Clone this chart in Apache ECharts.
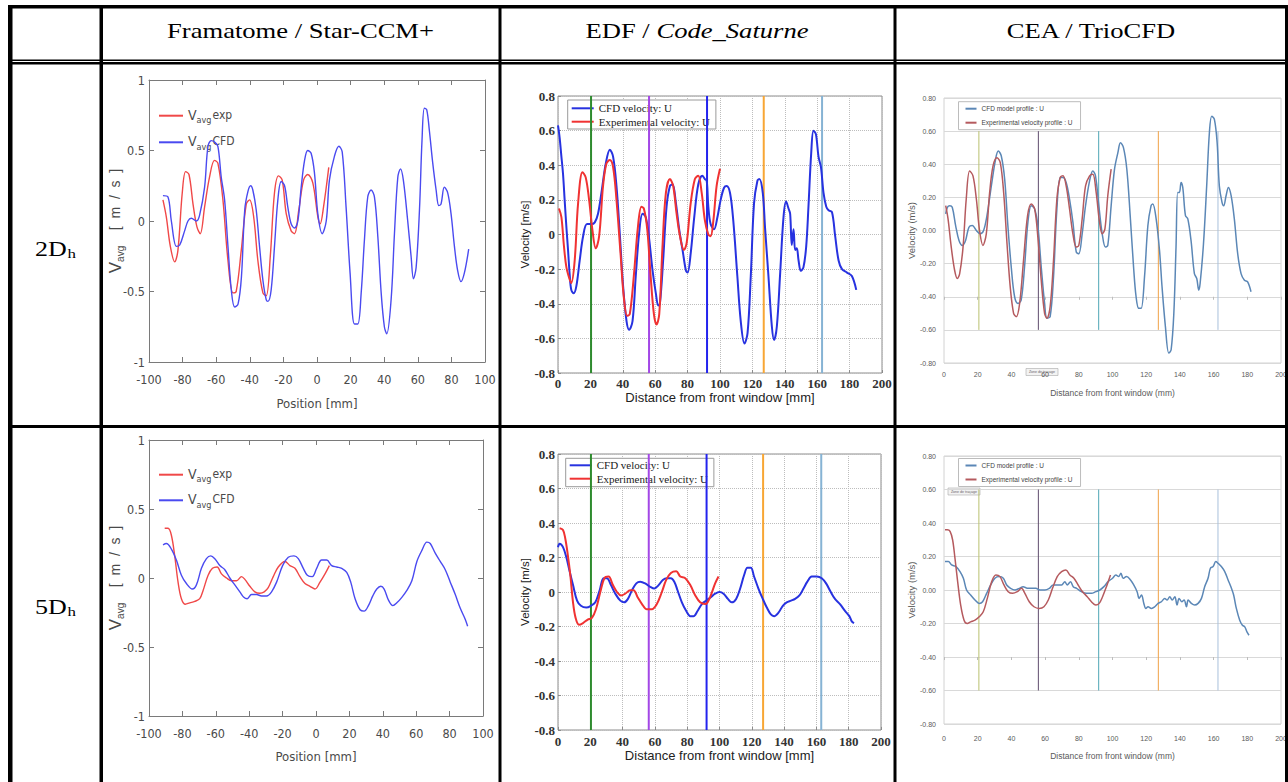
<!DOCTYPE html>
<html>
<head>
<meta charset="utf-8">
<script src="https://cdn.jsdelivr.net/npm/echarts@6/dist/echarts.min.js"></script>
<style>
  html, body { margin: 0; padding: 0; background: #fff; }
  #chart { width: 1288px; height: 782px; }
</style>
</head>
<body>
<div id="chart"></div>
<script>
// ---------- table text ----------
const rowLabels = ['2D', '5D'];
const rowLabelSub = 'h';

// ---------- Framatome / Star-CCM+ : position [mm] vs V_avg [m/s] ----------
const fra2Cfd = [[-91.7,0.18],[-88.7,0.17],[-86.7,0.0],[-83.7,-0.18],[-81.7,-0.17],[-78.8,-0.07],[-76.8,0.0],[-74.8,0.02],[-71.8,0.0],[-69.9,0.04],[-66.9,0.24],[-64.9,0.53],[-62.9,0.57],[-61,0.56],[-59,0.53],[-57,0.31],[-55,0.15],[-53,-0.18],[-51,-0.49],[-49,-0.61],[-47,-0.59],[-45,-0.40],[-43,0.08],[-41.1,0.21],[-39.5,0.25],[-38.2,0.22],[-36.2,0.08],[-34.2,-0.18],[-32.2,-0.42],[-30.2,-0.56],[-29.2,-0.57],[-27.3,-0.49],[-25.3,-0.18],[-23.3,0.15],[-21.3,0.28],[-19.3,0.25],[-17.4,0.10],[-15.4,-0.02],[-13.4,-0.05],[-11.4,0.0],[-9.4,0.24],[-7.4,0.43],[-5.5,0.50],[-3.5,0.48],[-1.5,0.34],[0.5,0.05],[3.1,-0.09],[5.5,0.0],[7.4,0.29],[10.4,0.46],[13,0.53],[15,0.49],[17.3,0.10],[19.7,-0.37],[22.3,-0.73],[24.3,-0.73],[26.3,-0.51],[28.2,-0.14],[30.2,0.17],[32.2,0.22],[34.2,0.17],[36.2,-0.11],[38.2,-0.51],[40.1,-0.75],[41.5,-0.80],[44.1,-0.56],[46.1,-0.09],[48.1,0.31],[49.7,0.37],[51.4,0.29],[54,0.0],[56,-0.25],[57.4,-0.41],[59,-0.33],[61,0.08],[62.5,0.57],[63.9,0.80],[65.3,0.79],[66.9,0.64],[68.9,0.41],[70.9,0.22],[72.5,0.11],[73.8,0.12],[75.8,0.24],[77.8,0.20],[79.8,0.05],[81.8,-0.18],[83.7,-0.35],[85.7,-0.43],[87.7,-0.37],[90.3,-0.20]];
const fra2Exp = [[-91.7,0.15],[-89.7,0.03],[-87.3,-0.18],[-84.7,-0.29],[-82.8,-0.21],[-80.2,0.20],[-78.2,0.35],[-76.2,0.33],[-73.8,0.12],[-71.5,-0.04],[-69.5,-0.09],[-66.9,0.10],[-64,0.31],[-61,0.43],[-59,0.41],[-56,0.15],[-53,-0.28],[-50,-0.51],[-48.1,-0.50],[-45.1,-0.21],[-42.1,0.12],[-40.1,0.15],[-37.7,0.03],[-35.2,-0.28],[-32.2,-0.51],[-30.2,-0.53],[-27.8,-0.25],[-25.3,0.20],[-22.9,0.32],[-20.7,0.29],[-18.3,0.05],[-15.4,-0.07],[-13.4,-0.09],[-10.8,0.08],[-8,0.29],[-5.5,0.33],[-2.5,0.27],[0.5,0.03],[1.9,-0.02],[3.9,0.10],[7,0.38]];
const fra5Cfd = [[-91.6,0.24],[-89.6,0.25],[-86.6,0.21],[-83.6,0.13],[-80.6,0.02],[-77.6,-0.04],[-74,-0.08],[-71.6,-0.05],[-68.6,0.07],[-65.6,0.14],[-63,0.16],[-60.6,0.14],[-57.6,0.09],[-54.6,0.06],[-51.6,0.0],[-48.6,-0.05],[-45.6,-0.10],[-43.2,-0.14],[-41.2,-0.15],[-38.6,-0.12],[-35.6,-0.12],[-32.6,-0.13],[-29.6,-0.13],[-26.6,-0.10],[-23.6,-0.03],[-20,0.09],[-16.6,0.15],[-13.2,0.16],[-10.6,0.14],[-7.6,0.07],[-5.2,0.02],[-2.2,0.01],[0.4,0.07],[3.4,0.13],[6.4,0.13],[9.4,0.09],[12.4,0.08],[15.4,0.07],[18.4,0.04],[20.8,-0.03],[23.4,-0.15],[26.4,-0.23],[28.8,-0.24],[31.4,-0.20],[34,-0.13],[36.4,-0.08],[38.8,-0.06],[40.8,-0.08],[43.4,-0.16],[46,-0.20],[48.4,-0.18],[51.4,-0.14],[54.4,-0.09],[57.4,-0.02],[60.4,0.12],[63.4,0.20],[66.4,0.26],[68.4,0.25],[71.4,0.18],[74.4,0.12],[77.4,0.06],[80.4,-0.03],[83.4,-0.12],[86.4,-0.22],[89.4,-0.30],[90.8,-0.35]];
const fra5Exp = [[-90.6,0.36],[-88.6,0.36],[-86.6,0.31],[-84.6,0.16],[-82.6,-0.03],[-80.6,-0.15],[-78.2,-0.19],[-75.6,-0.18],[-72.6,-0.17],[-69.6,-0.15],[-67.6,-0.09],[-64.6,0.02],[-62,0.07],[-59.2,0.08],[-56.6,0.03],[-53.6,0.0],[-50.6,-0.02],[-47.6,-0.02],[-44.6,0.01],[-42.6,-0.01],[-39.6,-0.06],[-36.6,-0.10],[-33.6,-0.11],[-31,-0.10],[-28.6,-0.07],[-25.6,0.01],[-22.6,0.08],[-18.6,0.12],[-15.6,0.09],[-12.6,0.07],[-9.6,0.01],[-6.6,-0.04],[-3.6,-0.06],[-0.6,-0.08],[2.4,-0.03],[5.4,0.03],[8,0.09]];

// ---------- EDF / Code_Saturne : distance from front window [mm] vs velocity ----------
const edf2Cfd = [[0,0.63],[1,0.56],[2.1,0.45],[3.1,0.35],[4.1,0.20],[5.2,0.04],[6.2,-0.09],[7.2,-0.23],[8.2,-0.32],[9.7,-0.34],[11.3,-0.30],[13.4,-0.15],[15.5,-0.01],[17.9,0.06],[20.6,0.06],[22.7,0.07],[24.7,0.12],[26.8,0.24],[29.5,0.41],[32,0.49],[34,0.45],[36.1,0.28],[38.1,0.01],[40.2,-0.30],[42.3,-0.50],[43.9,-0.55],[46,-0.50],[48,-0.24],[50.1,0.01],[52.2,0.12],[54.2,0.10],[56.3,-0.03],[58.4,-0.21],[60.4,-0.34],[61.9,-0.41],[62.9,-0.40],[64.9,-0.15],[67,0.16],[69.1,0.28],[70.7,0.29],[72.8,0.18],[74.8,0.03],[76.9,-0.09],[79,-0.21],[80,-0.22],[81.9,-0.11],[84.1,0.10],[86.6,0.29],[89.1,0.34],[90.7,0.32],[91.8,0.31],[92.8,0.16],[94.2,0.06],[96.3,0.03],[98.4,0.10],[100.4,0.20],[102.5,0.27],[104.1,0.28],[106.2,0.24],[108.2,0.08],[110.7,-0.24],[112.8,-0.50],[115.1,-0.63],[117,-0.57],[119,-0.24],[121,0.18],[123.1,0.31],[124.3,0.32],[126.4,0.24],[127.8,0.04],[129.9,-0.24],[132,-0.53],[133.4,-0.61],[135.1,-0.53],[137.1,-0.23],[139.2,0.10],[140.8,0.19],[142.3,0.15],[143.3,0.12],[144.3,-0.06],[145.4,0.03],[146.4,-0.09],[147.4,-0.08],[148.5,-0.15],[149.9,-0.21],[151.5,-0.19],[153.2,-0.07],[154.6,0.16],[156.3,0.47],[157.7,0.60],[159.2,0.58],[160.8,0.45],[162.3,0.39],[163.9,0.24],[165.6,0.16],[167,0.14],[169.1,0.13],[171.1,-0.01],[173.2,-0.15],[175.3,-0.20],[178.4,-0.22],[181.4,-0.24],[184.1,-0.32]];
const edf2Exp = [[0.6,0.15],[2.1,0.10],[3.7,-0.07],[5.2,-0.19],[7.2,-0.26],[8.2,-0.28],[10.3,-0.15],[12.4,0.18],[15.1,0.36],[17.1,0.33],[19.2,0.20],[21.2,0.03],[23.3,-0.08],[25.4,-0.01],[27.8,0.28],[29.9,0.41],[32,0.43],[34,0.39],[36.1,0.20],[38.6,-0.11],[40.6,-0.36],[42.7,-0.47],[44.3,-0.46],[46.8,-0.24],[49.3,0.04],[51.5,0.16],[53,0.15],[55.1,0.03],[57.1,-0.23],[59.2,-0.46],[60.8,-0.52],[62.5,-0.46],[64.5,-0.07],[66.6,0.24],[69.1,0.32],[71.1,0.28],[73.2,0.12],[75.3,-0.01],[77.7,-0.09],[79.4,-0.05],[81.9,0.18],[84.5,0.32],[86.6,0.34],[88.7,0.24],[90.7,0.08],[92.8,0.0],[94.2,-0.01],[95.9,0.08],[97.9,0.28],[100,0.38]];
const edf5Cfd = [[0,0.26],[1,0.28],[3.1,0.26],[5.2,0.20],[7.2,0.12],[9.3,0.04],[11.8,-0.05],[14.2,-0.08],[17.5,-0.09],[20.4,-0.08],[23.1,-0.06],[25.8,0.01],[28.2,0.08],[30.3,0.08],[32.8,0.04],[35.5,-0.01],[38.6,-0.05],[41,-0.06],[43.3,-0.04],[45.8,0.01],[48.5,0.05],[50.9,0.06],[54,0.05],[57.1,0.03],[59.6,0.02],[62.3,0.04],[64.9,0.07],[67.4,0.08],[69.9,0.08],[72,0.06],[74,0.01],[76.7,-0.06],[79.4,-0.11],[81.9,-0.14],[83.9,-0.14],[86.4,-0.11],[89.1,-0.07],[91.8,-0.05],[94.6,-0.03],[97.3,-0.01],[100,0.0],[102.5,-0.01],[105.2,-0.04],[107.6,-0.06],[110.3,-0.04],[112.8,0.02],[115.3,0.10],[117.3,0.14],[119.4,0.14],[121.4,0.09],[124.1,0.02],[126.8,-0.04],[129.3,-0.09],[131.8,-0.13],[133.8,-0.14],[136.5,-0.12],[139.2,-0.08],[141.6,-0.06],[144.3,-0.05],[146.8,-0.04],[149.5,-0.02],[152,0.02],[154.4,0.06],[157.1,0.09],[160.2,0.09],[163.3,0.08],[166,0.05],[168.9,0.0],[171.5,-0.04],[174.6,-0.07],[177.7,-0.11],[180.4,-0.14],[181.9,-0.17],[183.3,-0.18]];
const edf5Exp = [[1,0.37],[3.1,0.36],[4.5,0.31],[6,0.22],[7.6,0.10],[9.3,-0.06],[10.9,-0.15],[13,-0.19],[15.5,-0.18],[18.4,-0.16],[21,-0.15],[23.5,-0.10],[26.2,0.0],[28.7,0.08],[31.3,0.09],[34,0.04],[36.5,0.0],[39,-0.02],[41.6,-0.01],[44.7,0.01],[46.8,0.01],[49.3,-0.03],[52,-0.07],[55,-0.10],[58.1,-0.10],[61.2,-0.07],[64.3,0.0],[67,0.07],[69.9,0.11],[73.2,0.12],[75.7,0.09],[78.8,0.08],[81.9,0.04],[85,-0.02],[88,-0.06],[91.1,-0.07],[92.6,-0.06],[94.6,-0.02],[97.3,0.05],[99.4,0.09]];
const edfProbeX = [20.4, 56.2, 92, 127, 163];

// ---------- CEA / TrioCFD : distance from front window (mm) vs velocity ----------
const cea2Cfd = [[1,0.10],[2,0.14],[3.4,0.15],[4.9,0.14],[6.9,0.03],[8.9,-0.06],[10.9,-0.09],[12.8,-0.06],[14.8,0.02],[16.8,0.03],[19.2,0.0],[21.5,-0.02],[23.5,0.0],[25.5,0.09],[28.1,0.27],[30.6,0.43],[32.2,0.48],[34,0.45],[36,0.31],[37.9,0.03],[39.9,-0.22],[41.9,-0.40],[43.9,-0.44],[45.8,-0.42],[47.8,-0.22],[49.8,0.05],[51.8,0.15],[53.8,0.13],[55.7,0.03],[57.7,-0.22],[59.7,-0.44],[61.1,-0.53],[63,-0.52],[65,-0.28],[67,0.13],[69,0.32],[70.6,0.32],[72.5,0.29],[74.5,0.19],[76.5,0.05],[78.5,-0.13],[80,-0.14],[82,-0.02],[84,0.15],[86.4,0.30],[88.3,0.36],[89.9,0.33],[91.9,0.15],[93.9,-0.02],[95.8,-0.10],[97.2,-0.09],[99.2,0.15],[101.2,0.37],[103.2,0.47],[104.7,0.53],[106.5,0.50],[108.5,0.37],[110.5,0.09],[112.5,-0.22],[114,-0.40],[115.6,-0.47],[117,-0.47],[119,-0.28],[121,0.03],[122.9,0.15],[123.9,0.16],[125.9,0.07],[127.9,-0.12],[129.4,-0.34],[131.4,-0.58],[133.4,-0.74],[134.8,-0.72],[136.4,-0.50],[137.7,-0.10],[138.7,0.23],[139.7,0.23],[140.7,0.29],[141.7,0.26],[143.3,0.09],[144.7,0.07],[146.6,-0.06],[148.6,-0.26],[150,-0.29],[151.2,-0.36],[152,-0.32],[154,-0.08],[155.9,0.27],[157.5,0.59],[158.9,0.69],[160.5,0.67],[162.1,0.53],[163.4,0.27],[165,0.17],[166,0.15],[167.4,0.21],[168.8,0.26],[170.4,0.21],[172.3,0.07],[174.3,-0.14],[176.3,-0.26],[178.3,-0.30],[180.2,-0.31],[182.2,-0.37]];
const cea2Exp = [[1,0.15],[2.4,0.07],[4.3,-0.10],[6.3,-0.24],[7.9,-0.29],[9.3,-0.26],[11.3,-0.10],[13.2,0.19],[15.2,0.36],[17.2,0.33],[19.2,0.19],[21.1,0.0],[23.1,-0.09],[25.1,-0.02],[27.1,0.23],[29.1,0.39],[31.4,0.44],[33.4,0.41],[35.4,0.23],[37.4,-0.08],[39.3,-0.34],[41.3,-0.50],[42.9,-0.52],[44.9,-0.44],[47.2,-0.18],[49.6,0.09],[51.8,0.16],[53.8,0.13],[55.7,-0.04],[57.7,-0.30],[59.7,-0.50],[61.1,-0.53],[63,-0.46],[65,-0.18],[67,0.19],[69,0.32],[70.6,0.33],[72.5,0.27],[74.5,0.13],[76.5,-0.02],[78.5,-0.10],[80,-0.09],[82,0.07],[84,0.27],[86.4,0.33],[88.3,0.34],[90.3,0.23],[92.3,0.05],[93.9,-0.02],[95.5,0.01],[97.2,0.21],[99.2,0.37]];
const cea5Cfd = [[0.6,0.17],[2.6,0.17],[4.5,0.15],[7.1,0.14],[9.5,0.11],[11.5,0.07],[13.4,0.0],[15.8,-0.03],[18.4,-0.06],[20.9,-0.08],[22.9,-0.07],[25.3,-0.02],[27.7,0.03],[30.2,0.07],[32.8,0.08],[35.2,0.07],[37.2,0.03],[39.5,0.01],[42.1,0.0],[44.7,0.01],[47,0.02],[49.4,0.01],[52,0.01],[54.5,0.01],[56.9,0.0],[59.9,0.0],[62.5,0.01],[64.8,0.03],[67.2,0.03],[69.8,0.03],[71.7,0.05],[73.1,0.03],[75.1,0.05],[76.7,0.02],[78.7,0.01],[81.6,-0.01],[84.6,-0.02],[87.5,-0.02],[90.1,-0.01],[92.5,0.0],[94.9,0.02],[97.4,0.05],[100,0.07],[102,0.09],[103.6,0.08],[105,0.10],[106.3,0.07],[108.3,0.08],[110.7,0.06],[112.6,0.03],[114.6,-0.01],[115.8,-0.05],[117.2,-0.03],[118.6,-0.08],[119.8,-0.11],[121.1,-0.10],[123.1,-0.11],[125.1,-0.10],[127.1,-0.08],[129,-0.07],[131,-0.05],[132.4,-0.06],[134,-0.04],[135.4,-0.06],[137,-0.04],[138.3,-0.09],[139.5,-0.05],[141.1,-0.07],[142.5,-0.06],[143.9,-0.10],[144.9,-0.06],[146.8,-0.08],[148.8,-0.09],[150.8,-0.08],[152.8,-0.05],[154.7,0.02],[156.7,0.07],[158.1,0.13],[159.7,0.14],[161.3,0.17],[162.6,0.16],[164.6,0.14],[166.6,0.11],[168.6,0.06],[170.6,0.01],[171.9,-0.03],[173.5,-0.11],[175.5,-0.18],[177.1,-0.21],[178.5,-0.22],[179.8,-0.25],[181,-0.27]];
const cea5Exp = [[0.6,0.36],[2,0.36],[3.6,0.35],[5.1,0.30],[6.5,0.19],[8.1,0.05],[9.9,-0.09],[11.9,-0.18],[13.8,-0.20],[15.8,-0.19],[18.4,-0.18],[20.9,-0.16],[23.3,-0.13],[25.7,-0.05],[28.3,0.05],[30.8,0.09],[33.2,0.08],[35.6,0.03],[38.1,-0.01],[40.7,-0.02],[43.5,-0.01],[46,0.01],[48,-0.02],[50.6,-0.07],[53.4,-0.10],[56.5,-0.11],[59.3,-0.10],[61.9,-0.06],[64.4,0.01],[67.2,0.08],[69.8,0.11],[72.3,0.12],[74.7,0.09],[77.1,0.07],[79.6,0.03],[82.2,-0.01],[85,-0.04],[87.5,-0.07],[90.1,-0.09],[92.1,-0.08],[94.1,-0.04],[96.4,0.02],[98.8,0.09]];
const ceaProbeX = [20.7, 56, 91.8, 127.2, 162.6];

// ---------- styling ----------
const NARROW = "'Liberation Sans Narrow','DejaVu Sans Condensed','Liberation Sans',sans-serif";
const SANS = "'Liberation Sans',Arial,sans-serif";
const SERIF = "'Liberation Serif','Times New Roman',serif";
const edfProbeColors = ['#2e8b2e', '#a347e6', '#2323ee', '#f8a634', '#86b3d4'];
const ceaProbeColors = ['#b9c06f', '#5f4d6e', '#4fa6b6', '#f0a246', '#a9c0dc'];
// legend keys show the line only
const legendLineOnly = { opacity: 0 };

const grids = [], xAxes = [], yAxes = [], series = [], legends = [];

function addGrid(left, top, width, height, extra) {
  grids.push(Object.assign({ left, top, width, height, containLabel: false, outerBoundsMode: 'none' }, extra || {}));
  return grids.length - 1;
}
function addX(cfg) { xAxes.push(cfg); return xAxes.length - 1; }
function addY(cfg) { yAxes.push(cfg); return yAxes.length - 1; }
function addLine(name, data, xi, yi, color, width, z, smooth) {
  series.push({
    type: 'line', name, data, xAxisIndex: xi, yAxisIndex: yi,
    symbol: 'none', showSymbol: false, smooth: smooth, z,
    lineStyle: { color, width }, itemStyle: { color }, silent: true
  });
}
function addProbes(xs, colors, lo, hi, xi, yi, width) {
  xs.forEach((x, i) => {
    series.push({
      type: 'line', data: [[x, lo], [x, hi]], xAxisIndex: xi, yAxisIndex: yi,
      symbol: 'none', showSymbol: false, z: 4, silent: true,
      lineStyle: { color: colors[i], width }
    });
  });
}

// Octave-style panel: boxed axes, inward ticks on all four sides, condensed font
function octavePanel(rect, cfd, exp, legendTop, legendPitch, xLabelMargin, xNameGap) {
  const g = addGrid(rect[0], rect[1], rect[2], rect[3]);
  const axisLine = { show: true, onZero: false, lineStyle: { color: '#7a7a7a', width: 1 } };
  const tick = { show: true, inside: true, length: 5, lineStyle: { color: '#7a7a7a' } };
  const lbl = { fontFamily: NARROW, fontSize: 12.5, color: '#4a4a4a' };
  const xb = addX({ gridIndex: g, type: 'value', min: -100, max: 100, interval: 20, position: 'bottom',
    axisLine, axisTick: tick, splitLine: { show: false },
    axisLabel: Object.assign({ margin: xLabelMargin }, lbl),
    name: 'Position [mm]', nameLocation: 'middle', nameGap: xNameGap,
    nameTextStyle: { fontFamily: NARROW, fontSize: 13, color: '#4a4a4a' } });
  addX({ gridIndex: g, type: 'value', min: -100, max: 100, interval: 20, position: 'top',
    axisLine, axisTick: tick, axisLabel: { show: false }, splitLine: { show: false } });
  const yl = addY({ gridIndex: g, type: 'value', min: -1, max: 1, interval: 0.5, position: 'left',
    axisLine, axisTick: tick, splitLine: { show: false },
    axisLabel: Object.assign({ margin: 4 }, lbl),
    name: '{v|V}{s|avg}{u|    [  m  /  s  ]}', nameLocation: 'middle', nameGap: 24, nameMoveOverlap: false,
    nameTextStyle: { color: '#4a4a4a', rich: {
      v: { fontFamily: SANS, fontSize: 17, color: '#4a4a4a' },
      s: { fontFamily: SANS, fontSize: 10, color: '#4a4a4a', padding: [10, 0, 0, 0] },
      u: { fontFamily: SANS, fontSize: 14, color: '#4a4a4a' } } } });
  addY({ gridIndex: g, type: 'value', min: -1, max: 1, interval: 0.5, position: 'right',
    axisLine, axisTick: tick, axisLabel: { show: false }, splitLine: { show: false } });
  const nExp = 'Vavg exp', nCfd = 'Vavg CFD';
  addLine(nExp, exp, xb, yl, '#f04848', 1.4, 5, 0.35);
  addLine(nCfd, cfd, xb, yl, '#4a4af0', 1.4, 6, 0.35);
  legends.push({
    left: 158, top: legendTop, orient: 'vertical', itemWidth: 24, itemHeight: 18,
    itemGap: legendPitch - 18, padding: 0, data: [nExp, nCfd], selectedMode: false,
    itemStyle: legendLineOnly,
    formatter: n => '{v|V}{s|avg}{t|' + n.split(' ')[1] + '}',
    textStyle: { rich: {
      v: { fontFamily: NARROW, fontSize: 14, color: '#4a4a4a', padding: [0, 0, 2, 0] },
      s: { fontFamily: NARROW, fontSize: 9, color: '#4a4a4a', padding: [9, 0, 0, 0] },
      t: { fontFamily: NARROW, fontSize: 12, color: '#4a4a4a', padding: [0, 0, 2, 1] } } }
  });
}

// MATLAB-style panel: dotted grid, bold serif tick labels, probe lines over full height
function matlabPanel(rect, cfd, exp, legendBox, xLabelMargin, xNameGap) {
  const g = addGrid(rect[0], rect[1], rect[2], rect[3], { show: true, borderColor: '#8c8c8c', borderWidth: 1, backgroundColor: 'transparent' });
  const lbl = { fontFamily: SERIF, fontWeight: 'bold', fontSize: 13, color: '#333' };
  const split = { show: true, lineStyle: { type: 'dotted', color: '#bdbdbd', width: 1 } };
  const xi = addX({ gridIndex: g, type: 'value', min: 0, max: 200, interval: 20,
    axisLine: { show: false, onZero: false }, axisTick: { show: true, inside: true, length: 3, lineStyle: { color: '#8c8c8c' } },
    splitLine: split, axisLabel: Object.assign({ margin: xLabelMargin }, lbl),
    name: 'Distance from front window [mm]', nameLocation: 'middle', nameGap: xNameGap,
    nameTextStyle: { fontFamily: SANS, fontSize: 13, color: '#222' } });
  const yi = addY({ gridIndex: g, type: 'value', min: -0.8, max: 0.8, interval: 0.2,
    axisLine: { show: false, onZero: false }, axisTick: { show: true, inside: true, length: 3, lineStyle: { color: '#8c8c8c' } },
    splitLine: split, axisLabel: Object.assign({ margin: 3 }, lbl),
    name: 'Velocity [m/s]', nameLocation: 'middle', nameGap: 26,
    nameTextStyle: { fontFamily: SANS, fontSize: 11.5, color: '#222' } });
  const nCfd = 'CFD velocity: U', nExp = 'Experimental velocity: U';
  addLine(nCfd, cfd, xi, yi, '#2732e0', 2, 5, 0.35);
  addLine(nExp, exp, xi, yi, '#f03232', 2, 6, 0.35);
  addProbes(edfProbeX, edfProbeColors, -0.8, 0.8, xi, yi, 2);
  legends.push({
    left: legendBox[0], top: legendBox[1], orient: 'vertical', itemWidth: 22, itemHeight: 11,
    itemGap: 2.4, padding: legendBox[2], data: [nCfd, nExp], selectedMode: false,
    itemStyle: legendLineOnly,
    backgroundColor: '#fff', borderColor: '#9a9a9a', borderWidth: 1, borderRadius: 0,
    textStyle: { fontFamily: SERIF, fontSize: 11, color: '#222' }
  });
}

// Spreadsheet-style panel: light horizontal grid, small grey labels, probe lines between ±0.6
function excelPanel(rect, cfd, exp, legendTop, xLabelMargin, xNameGap) {
  const g = addGrid(rect[0], rect[1], rect[2], rect[3], { show: true, borderColor: '#d2d2d2', borderWidth: 1, backgroundColor: 'transparent' });
  const lbl = { fontFamily: SANS, fontSize: 7, color: '#5a5a5a' };
  const xi = addX({ gridIndex: g, type: 'value', min: 0, max: 200, interval: 20,
    axisLine: { show: false, onZero: false }, axisTick: { show: false }, splitLine: { show: false },
    axisLabel: Object.assign({ margin: xLabelMargin }, lbl),
    name: 'Distance from front window (mm)', nameLocation: 'middle', nameGap: xNameGap,
    nameTextStyle: { fontFamily: SANS, fontSize: 8.5, color: '#5a5a5a' } });
  // horizontal axis crossing at -0.40: tick marks only
  addX({ gridIndex: g, type: 'value', min: 0, max: 200, interval: 20, position: 'bottom',
    offset: -rect[3] / 4, axisLine: { show: false, onZero: false }, axisLabel: { show: false }, splitLine: { show: false },
    axisTick: { show: true, inside: false, length: 3, lineStyle: { color: '#bdbdbd' } } });
  const yi = addY({ gridIndex: g, type: 'value', min: -0.8, max: 0.8, interval: 0.2,
    axisLine: { show: false, onZero: false }, axisTick: { show: false },
    splitLine: { show: true, lineStyle: { color: '#d9d9d9', width: 1 } },
    axisLabel: Object.assign({ margin: 8, formatter: v => v.toFixed(2) }, lbl),
    name: 'Velocity (m/s)', nameLocation: 'middle', nameGap: 23,
    nameTextStyle: { fontFamily: SANS, fontSize: 9.5, color: '#5a5a5a' } });
  const nCfd = 'CFD model profile : U', nExp = 'Experimental velocity profile : U';
  addLine(nCfd, cfd, xi, yi, '#5b87b6', 1.5, 5, 0.35);
  addLine(nExp, exp, xi, yi, '#b55a5e', 1.5, 6, 0.35);
  addProbes(ceaProbeX, ceaProbeColors, -0.6, 0.6, xi, yi, 1);
  legends.push({
    left: 958.5, top: legendTop, orient: 'vertical', itemWidth: 11, itemHeight: 8,
    itemGap: 7, padding: [3.5, 8, 3.5, 6], data: [nCfd, nExp], selectedMode: false,
    itemStyle: legendLineOnly,
    backgroundColor: '#fff', borderColor: '#bcbcbc', borderWidth: 1,
    textStyle: { fontFamily: SANS, fontSize: 6.5, color: '#444' }
  });
}

octavePanel([149, 80, 336, 282], fra2Cfd, fra2Exp, 107.7, 27.6, 11, 35);
matlabPanel([558, 96, 324, 277], edf2Cfd, edf2Exp, [567.7, 100, [2.8, 6, 1.8, 3]], 4, 17);
excelPanel([944, 98, 337, 265], cea2Cfd, cea2Exp, 101.7, 8, 25);
octavePanel([149, 440, 334, 276], fra5Cfd, fra5Exp, 466.7, 26.6, 11, 34);
matlabPanel([558, 454, 323, 276], edf5Cfd, edf5Exp, [565.7, 458.3, [1.5, 6, 2.5, 3]], 5, 18);
excelPanel([944, 456, 337, 268], cea5Cfd, cea5Exp, 458.5, 11, 27);

// ---------- table frame and headings ----------
const BLACK = '#000';
function bar(x, y, w, h) { return { type: 'rect', z: 100, silent: true, shape: { x, y, width: w, height: h }, style: { fill: BLACK } }; }
const tableFrame = [
  bar(8, 5, 1280, 3.5),          // top edge
  bar(8, 5, 4.5, 777),           // left edge
  bar(99.5, 5, 3.5, 777),        // label column
  bar(498.5, 5, 3, 777),         // column 1 | 2
  bar(893.5, 5, 3, 777),         // column 2 | 3
  bar(1285, 5, 3, 777),          // right edge
  bar(8, 59.5, 1280, 1.5),       // header double rule
  bar(8, 62, 1280, 2.5),
  bar(8, 425, 1280, 3)           // row rule
];
function heading(x, y, text, rich) {
  return { type: 'text', z: 101, silent: true, x, y, scaleX: 1.33, scaleY: 1,
    style: { text, rich, fontFamily: SERIF, fontSize: 20, fill: '#000', align: 'center', verticalAlign: 'middle' } };
}
function rowLabel(y, main) {
  return [
    { type: 'text', z: 101, silent: true, x: 35, y, scaleX: 1.3,
      style: { text: main, fontFamily: SERIF, fontSize: 20, fill: '#000', align: 'left', verticalAlign: 'middle' } },
    { type: 'text', z: 101, silent: true, x: 67.5, y: y + 4.5, scaleX: 1.3,
      style: { text: rowLabelSub, fontFamily: SERIF, fontSize: 13, fill: '#000', align: 'left', verticalAlign: 'middle' } }
  ];
}
function plotTip(x, y) {
  return { type: 'group', z: 50, silent: true, x, y, children: [
    { type: 'rect', shape: { x: 0, y: 0, width: 32, height: 7 }, style: { fill: '#f3f3f3', stroke: '#a8a8a8', lineWidth: 0.6 } },
    { type: 'text', x: 16, y: 3.6, style: { text: 'Zone de traçage', fontFamily: SANS, fontSize: 3.6, fill: '#666', align: 'center', verticalAlign: 'middle' } }
  ] };
}
const graphics = [
  heading(300.5, 31.7, 'Framatome / Star-CCM+'),
  heading(697, 31.7, '{n|EDF / }{i|Code_Saturne}', {
    n: { fontFamily: SERIF, fontSize: 20, fill: '#000' },
    i: { fontFamily: SERIF, fontSize: 20, fontStyle: 'italic', fill: '#000' } }),
  heading(1091, 31.7, 'CEA / TrioCFD'),
  ...rowLabel(249, rowLabels[0]),
  ...rowLabel(607.5, rowLabels[1]),
  plotTip(1026, 368.5),
  plotTip(948, 488),
  ...tableFrame
];

const chart = echarts.init(document.getElementById('chart'), null, { renderer: 'svg' });
chart.setOption({
  animation: false,
  backgroundColor: '#fff',
  grid: grids,
  xAxis: xAxes,
  yAxis: yAxes,
  legend: legends,
  series,
  graphic: graphics
});
</script>
</body>
</html>
